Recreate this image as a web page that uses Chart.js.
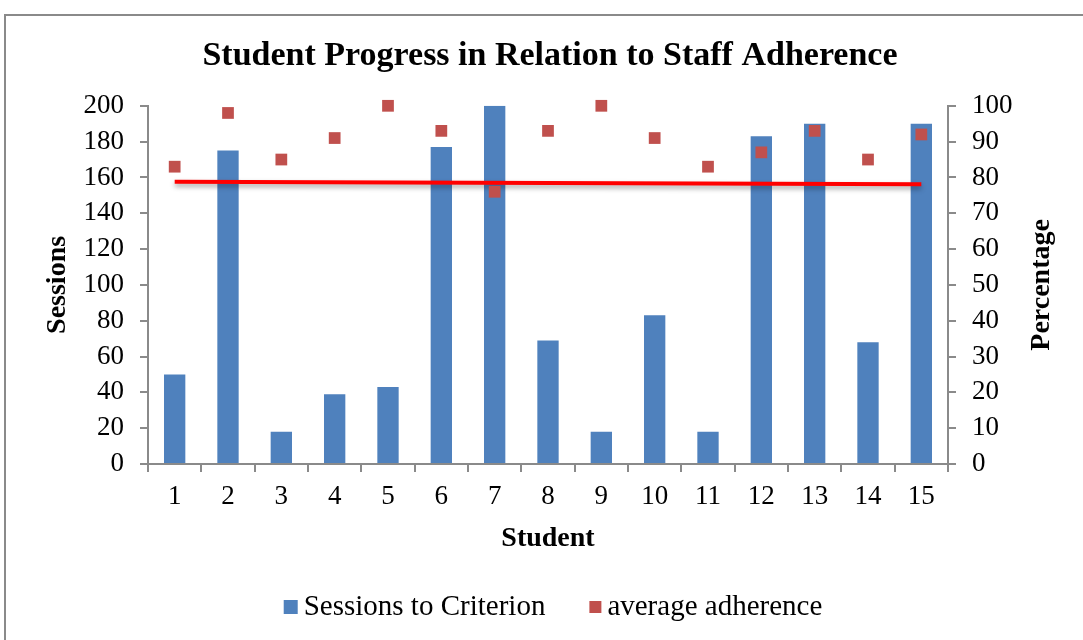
<!DOCTYPE html>
<html>
<head>
<meta charset="utf-8">
<script src="https://cdn.jsdelivr.net/npm/chart.js@4.4.1/dist/chart.umd.min.js"></script>
<style>
  html, body { margin: 0; padding: 0; background: #fff; }
  #frame { position: absolute; left: 4px; top: 14px; width: 1100px; height: 660px; border: 2px solid #8a8a8a; }
  #wrap { position: absolute; left: 0; top: 0; width: 1083px; height: 640px; }
</style>
</head>
<body>
<div id="frame"></div>
<div id="wrap"><canvas id="chart" width="1083" height="640"></canvas></div>
<script>
// data
const students = ['1', '2', '3', '4', '5', '6', '7', '8', '9', '10', '11', '12', '13', '14', '15'];
const sessions = [50, 175, 18, 39, 43, 177, 200, 69, 18, 83, 18, 183, 190, 68, 190];
const adherence = [83, 98, 85, 91, 100, 93, 76, 93, 100, 91, 83, 87, 93, 85, 92];
const trendStart = 78.8;
const trendEnd = 78.1;

const trend = students.map((s, i) => i === 0 ? trendStart : (i === students.length - 1 ? trendEnd : null));

const axisGray = '#8a8a8a';
const serif = "'Liberation Serif', 'Times New Roman', serif";
const axisTitleSize = 28;
Chart.defaults.font.family = serif;
Chart.defaults.color = '#000';

// soft drop shadow under the red line
const lineShadow = {
  id: 'lineShadow',
  beforeDatasetDraw(chart, args) {
    if (args.index !== 2) return;
    const ctx = chart.ctx;
    ctx.save();
    ctx.shadowColor = 'rgba(0,0,0,0.35)';
    ctx.shadowBlur = 5;
    ctx.shadowOffsetY = 3;
  },
  afterDatasetDraw(chart, args) {
    if (args.index !== 2) return;
    chart.ctx.restore();
  }
};

// right axis title reads bottom-to-top, like the left one
const rightTitle = {
  id: 'rightTitle',
  afterDraw(chart) {
    const sc = chart.scales.y1;
    const ctx = chart.ctx;
    ctx.save();
    ctx.font = 'bold ' + axisTitleSize + 'px ' + serif;
    ctx.fillStyle = '#000';
    ctx.textAlign = 'center';
    ctx.textBaseline = 'middle';
    ctx.translate(sc.right - axisTitleSize * 0.6, (sc.top + sc.bottom) / 2);
    ctx.rotate(-Math.PI / 2);
    ctx.fillText('Percentage', 0, 0);
    ctx.restore();
  }
};

// Excel-style legend: wide gap between the two entries, tight box-to-text gap
const bottomLegend = {
  id: 'bottomLegend',
  afterDraw(chart) {
    const ctx = chart.ctx;
    const entries = [{ ds: 0, box: 14 }, { ds: 1, box: 12 }];
    ctx.save();
    ctx.font = '29px ' + serif;
    ctx.textBaseline = 'middle';
    ctx.textAlign = 'left';
    const widths = entries.map(e => ctx.measureText(chart.data.datasets[e.ds].label).width);
    const boxGap = 6, itemGap = 44;
    let total = itemGap * (entries.length - 1);
    entries.forEach((e, i) => { total += e.box + boxGap + widths[i]; });
    let x = 553 - total / 2;
    const cy = 607;
    entries.forEach((e, i) => {
      const ds = chart.data.datasets[e.ds];
      ctx.fillStyle = ds.backgroundColor;
      ctx.fillRect(x, cy - e.box / 2, e.box, e.box);
      x += e.box + boxGap;
      ctx.fillStyle = '#000';
      ctx.fillText(ds.label, x, cy);
      x += widths[i] + itemGap;
    });
    ctx.restore();
  }
};

new Chart(document.getElementById('chart'), {
  type: 'bar',
  data: {
    labels: students,
    datasets: [
      {
        label: 'Sessions to Criterion',
        data: sessions,
        backgroundColor: '#4F81BD',
        borderWidth: 0,
        yAxisID: 'y',
        barPercentage: 0.4,
        categoryPercentage: 1,
        order: 2
      },
      {
        type: 'line',
        label: 'average adherence',
        data: adherence,
        showLine: false,
        clip: false,
        backgroundColor: '#C0504D',
        borderColor: '#C0504D',
        borderWidth: 0,
        pointStyle: 'rect',
        pointRadius: 8.3,
        pointBorderWidth: 0,
        pointBackgroundColor: '#C0504D',
        yAxisID: 'y1',
        order: 0
      },
      {
        type: 'line',
        label: 'trend',
        data: trend,
        spanGaps: true,
        borderColor: '#FF0000',
        borderWidth: 4,
        pointRadius: 0,
        yAxisID: 'y1',
        order: 1
      }
    ]
  },
  options: {
    responsive: false,
    animation: false,
    layout: { padding: { left: 41, right: 24, top: 20, bottom: 55 } },
    plugins: {
      title: {
        display: true,
        text: 'Student Progress in Relation to Staff Adherence',
        font: { size: 34, weight: 'bold' },
        padding: { top: 16, bottom: 29 }
      },
      legend: { display: false },
      tooltip: { enabled: false }
    },
    scales: {
      x: {
        offset: true,
        grid: { offset: true, drawOnChartArea: false, drawTicks: true, tickLength: 8, color: axisGray, lineWidth: 2 },
        border: { color: axisGray, width: 2 },
        ticks: { font: { size: 27 }, padding: 9, maxRotation: 0 },
        title: { display: true, text: 'Student', font: { size: axisTitleSize, weight: 'bold' }, padding: { top: 0, bottom: 29 } }
      },
      y: {
        position: 'left',
        min: 0,
        max: 200,
        ticks: { stepSize: 20, font: { size: 27 }, padding: 16 },
        grid: { drawOnChartArea: false, tickLength: 8, color: axisGray, lineWidth: 2 },
        border: { color: axisGray, width: 2 },
        title: { display: true, text: 'Sessions', font: { size: axisTitleSize, weight: 'bold' }, padding: { top: 0, bottom: 0 } },
        afterFit(scale) { scale.width = 107; }
      },
      y1: {
        position: 'right',
        min: 0,
        max: 100,
        ticks: { stepSize: 10, font: { size: 27 }, padding: 16 },
        grid: { drawOnChartArea: false, tickLength: 8, color: axisGray, lineWidth: 2 },
        border: { color: axisGray, width: 2 },
        title: { display: true, text: 'Percentage', color: 'rgba(0,0,0,0)', font: { size: axisTitleSize, weight: 'bold' }, padding: { top: 0, bottom: 0 } },
        afterFit(scale) { scale.width = 111; }
      }
    }
  },
  plugins: [lineShadow, rightTitle, bottomLegend]
});
</script>
</body>
</html>
